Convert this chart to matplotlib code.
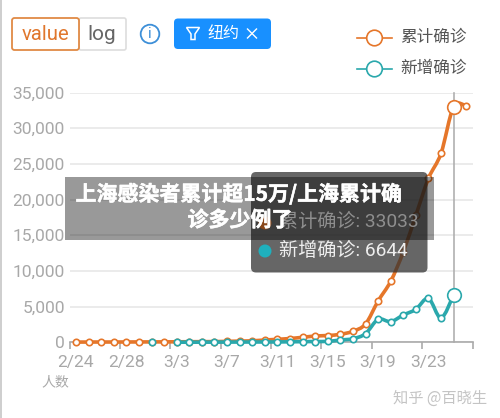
import numpy as np
import matplotlib
matplotlib.use("Agg")
import matplotlib.pyplot as plt
import matplotlib.patheffects as pe
from matplotlib.path import Path
from matplotlib.patches import PathPatch, FancyBboxPatch, Circle, Polygon, Rectangle

CJK = ['Noto Sans CJK SC', 'DejaVu Sans']
LAT = ['Roboto', 'Noto Sans CJK SC', 'DejaVu Sans']
plt.rcParams['font.family'] = LAT

days = ['2/24','2/25','2/26','2/27','2/28','2/29','3/1','3/2','3/3','3/4','3/5','3/6','3/7','3/8','3/9','3/10',
        '3/11','3/12','3/13','3/14','3/15','3/16','3/17','3/18','3/19','3/20','3/21','3/22','3/23','3/24','3/25','3/26']
total = [30,35,40,40,45,50,55,60,70,80,90,100,130,170,210,320,
         420,530,700,880,950,1120,1540,2560,5780,8540,12650,17800,22970,26470,33033,33100]
new = [None,None,None,None,None,None,20,None,15,15,20,25,30,35,40,45,
       50,70,90,110,130,320,500,1200,3220,2890,3820,4620,6160,3400,6644,None]
yticks = [0,5000,10000,15000,20000,25000,30000,35000]
ORANGE = '#e5762a'
TEAL = '#2aa8ac'
GRAY = '#a8a8a8'

fig = plt.figure(figsize=(5.0,4.18), dpi=100, facecolor='white')
L,R,T,B = 69.7,472.5,92.5,342.3
ax = fig.add_axes([L/500, 1-B/418, (R-L)/500, (B-T)/418])
ax.set_xlim(-0.5,31.5); ax.set_ylim(0,35000)
ax.patch.set_visible(False)
for s in ['top','right','left']:
    ax.spines[s].set_visible(False)
ax.spines['bottom'].set_color('#aaaaaa'); ax.spines['bottom'].set_linewidth(1.2)
ax.set_yticks(yticks)
ax.set_yticklabels([f'{v:,}' for v in yticks], fontsize=12.5, color=GRAY)
ax.tick_params(axis='y', length=0, pad=3.5)
ax.grid(axis='y', color='#e8e8e8', lw=1.2)
ax.set_axisbelow(True)
ax.set_xticks(np.arange(-0.5,32,4))
ax.set_xticklabels([])
ax.tick_params(axis='x', which='major', length=5, width=1.2, color='#aaaaaa')
pos = [p for p in range(0,32,4) if p <= 28]
ax.set_xticks(pos, minor=True)
ax.set_xticklabels([days[p] for p in pos], minor=True, fontsize=12.6, color=GRAY)
ax.tick_params(axis='x', which='minor', length=0, pad=9)
ax.axvline(30, color='#b0b0b0', lw=1.2, zorder=1.5, clip_on=False)

def smooth(xs, ys):
    n = len(xs)
    verts=[(xs[0],ys[0])]; codes=[Path.MOVETO]
    for i in range(n-1):
        a = max(i-1,0); d = min(i+2,n-1)
        k = 0.16
        c1=(xs[i]+(xs[i+1]-xs[a])*k, ys[i]+(ys[i+1]-ys[a])*k)
        c2=(xs[i+1]-(xs[d]-xs[i])*k, ys[i+1]-(ys[d]-ys[i])*k)
        verts += [c1,c2,(xs[i+1],ys[i+1])]; codes += [Path.CURVE4]*3
    return Path(verts,codes)

def series(vals,color,z):
    idx=[i for i,v in enumerate(vals) if v is not None]
    runs=[]; cur=[]
    for i in idx:
        if cur and i!=cur[-1]+1:
            runs.append(cur); cur=[]
        cur.append(i)
    runs.append(cur)
    for r in runs:
        if len(r)>1:
            ax.add_patch(PathPatch(smooth(r,[vals[i] for i in r]),fc='none',ec=color,lw=2.6,zorder=z,clip_on=False))
    mx=[i for i in idx if i!=30]
    ax.plot(mx,[vals[i] for i in mx],ls='none',marker='o',ms=4.6,mfc='white',mec=color,mew=1.2,zorder=z+.1,clip_on=False)
    ax.plot([30],[vals[30]],ls='none',marker='o',ms=9.8,mfc='white',mec=color,mew=1.2,zorder=z+.1,clip_on=False)
series(total,ORANGE,3)
series(new,TEAL,4)

# overlay: interface pieces in pixel coordinates
ov = fig.add_axes([0,0,1,1], zorder=10)
ov.set_xlim(0,500); ov.set_ylim(418,0); ov.axis('off'); ov.patch.set_visible(False)

def rbox(x0,y0,x1,y1,r,**kw):
    p=FancyBboxPatch((x0+r,y0+r),x1-x0-2*r,y1-y0-2*r,boxstyle=f'round,pad={r},rounding_size={r}',**kw)
    ov.add_patch(p); return p

ov.add_patch(Rectangle((0,0),1.5,418,fc='#cfcfcf',ec='none'))
rbox(79,18,126,50,2,fc='white',ec='#dddddd',lw=1.2)
rbox(12,18,79,50,2.5,fc='white',ec='#e08a45',lw=1.3)
ov.text(45.5,34,'value',ha='center',va='center',fontsize=14.6,color='#e0772d')
ov.text(102,34,'log',ha='center',va='center',fontsize=15,color='#666666')
ov.add_patch(Circle((150,34),9.3,fc='white',ec='#3d8fd8',lw=1.3))
ov.text(150,34,'i',ha='center',va='center',fontsize=11,color='#3d8fd8')
rbox(174,18.5,271,49,4,fc='#1890ff',ec='none')
ov.add_patch(Polygon([(186.5,27.5),(199.5,27.5),(195,34),(195,39.5),(191,39.5),(191,34)],closed=True,fc='none',ec='white',lw=1.1))
ov.text(223,33.5,'纽约',ha='center',va='center',fontsize=11.5,color='white',family=CJK)
ov.plot([247.5,256.5],[29,38],color='white',lw=1.0)
ov.plot([247.5,256.5],[38,29],color='white',lw=1.0)

for yy,col,lab in [(38,ORANGE,'累计确诊'),(69,TEAL,'新增确诊')]:
    ov.plot([357,392],[yy,yy],color=col,lw=1.2)
    ov.add_patch(Circle((374.5,yy),7.8,fc='white',ec=col,lw=1.2,zorder=3))
    ov.text(400,yy-1,lab,ha='left',va='center',fontsize=12,color='#555555',family=CJK)

ov.text(55,382,'人数',ha='center',va='center',fontsize=10,color=GRAY,family=CJK)
ov.text(440,398,'知乎 @百晓生',ha='center',va='center',fontsize=11,color='#c4c4c4',family=CJK)

# tooltip
rbox(251,172,427.5,272.5,5,fc=(0.2,0.2,0.2,0.75),ec='none',zorder=4)
ov.add_patch(Circle((265,223),6.5,fc=ORANGE,ec='none',zorder=4.1))
ov.add_patch(Circle((265,251),6.5,fc='#1fb0bd',ec='none',zorder=4.1))
ov.text(279,222,'累计确诊: 33033',ha='left',va='center',fontsize=13.8,color='#eeeeee',zorder=4.1,family=LAT)
ov.text(279,251,'新增确诊: 6644',ha='left',va='center',fontsize=13.8,color='#eeeeee',zorder=4.1,family=LAT)

# banner
ov.add_patch(Rectangle((65,177),369,63,fc=(0,0,0,0.4),ec='none',zorder=5))
stroke=[pe.withStroke(linewidth=0.35,foreground='white')]
ov.text(239,194,'上海感染者累计超15万/上海累计确',ha='center',va='center',fontsize=15.1,fontweight='bold',color='white',zorder=6,family=CJK,path_effects=stroke)
ov.text(240,220,'诊多少例了',ha='center',va='center',fontsize=15.1,fontweight='bold',color='white',zorder=6,family=CJK,path_effects=stroke)

fig.savefig('out.png',dpi=100)
